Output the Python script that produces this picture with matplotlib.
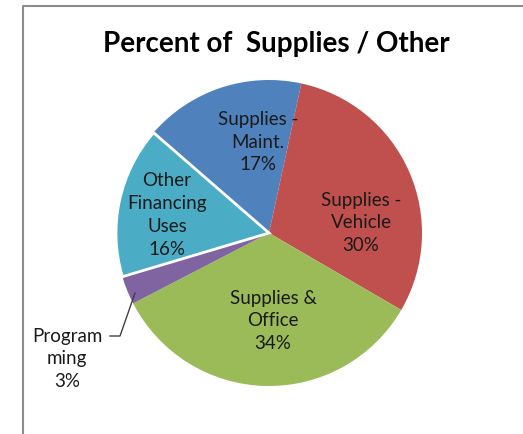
import numpy as np
import matplotlib.pyplot as plt
from matplotlib.lines import Line2D

# share of supplies / other spending, clockwise from the upper left
labels = ["Supplies -\nMaint.", "Supplies -\nVehicle", "Supplies &\nOffice",
          "Program\nming", "Other\nFinancing\nUses"]
percents = [17, 30, 34, 3, 16]
colors = ["#4F81BD", "#C0504D", "#9BBB59", "#8064A2", "#4BACC6"]

W, H = 523, 435
CX, CY, R = 269, H - 234, 153

plt.rcParams["font.family"] = ["Lato", "DejaVu Sans"]

fig = plt.figure(figsize=(W / 100, H / 100), dpi=100)
ax = fig.add_axes([0, 0, 1, 1])

wedges, _ = ax.pie(percents, colors=colors, startangle=139, counterclock=False,
                   center=(CX, CY), radius=R, frame=False,
                   wedgeprops=dict(linewidth=0))
# the financing slice carries a white outline
wedges[4].set_edgecolor("white")
wedges[4].set_linewidth(2)

ax.set_xlim(0, W)
ax.set_ylim(0, H)
ax.set_aspect("equal")
ax.axis("off")

# label anchors in pixel space (x, y from top)
label_pos = [(258, 142), (361, 223), (273, 321), (67, 359), (167, 215)]
for name, pct, (x, y) in zip(labels, percents, label_pos):
    ax.text(x, H - y, f"{name}\n{pct}%", ha="center", va="center",
            fontsize=13.5, color="#1a1a1a", linespacing=1.42)

# leader line from the "Programming" label to its slice
w = wedges[3]
ang = np.deg2rad(w.theta1 + 0.7 * (w.theta2 - w.theta1))
tip = (CX + 0.96 * R * np.cos(ang), CY + 0.96 * R * np.sin(ang))
ax.add_line(Line2D([110, 120, tip[0]], [H - 337, H - 337, tip[1]],
                   color="#404040", linewidth=1))

ax.text(276, H - 44, "Percent of  Supplies / Other", ha="center", va="center",
        fontsize=20, fontweight="bold", color="black")

# chart area border (top and left edges)
ax.add_line(Line2D([23, 23, W], [0, H - 7, H - 7], color="#8c8c8c", linewidth=1.5))

fig.savefig("out.png", dpi=100)
